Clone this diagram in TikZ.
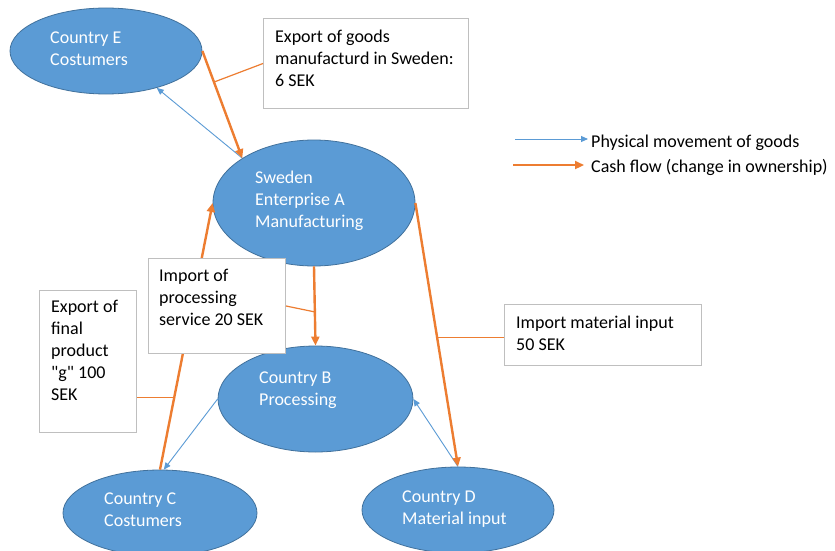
\documentclass[tikz,border=0pt]{standalone}
\usepackage{fontspec}
\setmainfont{Carlito}
\usetikzlibrary{shapes.geometric,arrows.meta,calc}
\definecolor{nodeblue}{HTML}{5B9BD5}
\definecolor{nodeedge}{HTML}{41719C}
\definecolor{cash}{HTML}{ED7D31}
\definecolor{boxedge}{HTML}{BFBFBF}
\begin{document}
\begin{tikzpicture}[x=1pt,y=-1pt,
  country/.style={ellipse,fill=nodeblue,draw=nodeedge,line width=0.8pt,inner sep=0pt},
  ctext/.style={anchor=north west,inner sep=0pt,align=left,text=white,font=\fontsize{18}{22}\selectfont},
  note/.style={draw=boxedge,line width=1pt,fill=white,anchor=north west,inner sep=0pt},
  ntext/.style={anchor=north west,inner sep=0pt,align=left,font=\fontsize{18}{22}\selectfont},
  ltext/.style={anchor=base west,inner sep=0pt,font=\fontsize{18}{22}\selectfont},
  cashflow/.style={cash,line width=2.4pt,-{Triangle[length=9pt,width=8pt]}},
  goods/.style={nodeblue,line width=0.9pt,-{Triangle[length=7pt,width=6pt]}},
  callout/.style={draw=cash,line width=1.2pt},
]
\useasboundingbox[fill=white] (0,0) rectangle (835,551);

% countries
\node[country,minimum width=192pt,minimum height=86pt]  (E) at (106,51)    {};
\node[country,minimum width=202pt,minimum height=126pt] (A) at (314,203)   {};
\node[country,minimum width=195pt,minimum height=106pt] (B) at (315.5,399) {};
\node[country,minimum width=194pt,minimum height=86pt]  (C) at (160,513)   {};
\node[country,minimum width=192pt,minimum height=86pt]  (D) at (458,510)   {};

\node[ctext] (Et) at (50,32)  {Country E\\Costumers};
\node[ctext] (At) at (255,171) {Sweden\\Enterprise A\\Manufacturing};
\node[ctext] (Bt) at (259,372) {Country B\\Processing};
\node[ctext] (Ct) at (104,493) {Country C\\Costumers};
\node[ctext] (Dt) at (402,491) {Country D\\Material input};

% flows of goods
\draw[goods] (A.148) -- (E.324);
\draw[goods] (B.west) -- (C.85);
\draw[goods] (D.north) -- (B.east);

% cash flows
\draw[cashflow] (E.east) -- (A.148);
\draw[cashflow] (C.north) -- (A.west);
\draw[cashflow] (A.south) -- (B.north);
\draw[cashflow] (A.east) -- (D.north);

% notes
\node[note,minimum width=205pt,minimum height=90pt]  (n1) at (263,18)  {};
\node[note,minimum width=137pt,minimum height=95pt]  (n2) at (148,258) {};
\node[note,minimum width=97pt,minimum height=142pt]  (n3) at (39,290)  {};
\node[note,minimum width=197pt,minimum height=61pt]  (n4) at (504,304) {};

\node[ntext] (n1t) at (275,30)  {Export of goods\\manufacturd in Sweden:\\6 SEK};
\node[ntext] (n2t) at (159,269) {Import of\\processing\\service 20 SEK};
\node[ntext] (n3t) at (51,300)  {Export of\\final\\product\\\textquotedbl g\textquotedbl{} 100\\SEK};
\node[ntext] (n4t) at (516,316) {Import material input\\50 SEK};

% callout leaders
\coordinate (c1) at ($(E.east)!0.29!(A.148)$);
\coordinate (c2) at ($(A.south)!0.575!(B.north)$);
\coordinate (c3) at ($(C.north)!0.273!(A.west)$);
\coordinate (c4) at ($(A.east)!0.508!(D.north)$);
\coordinate (n3r) at ($(n3.north east)!0.75!(n3.south east)$);
\coordinate (n4l) at ($(n4.north west)!0.54!(n4.south west)$);
\draw[callout] (n1.west) -- (c1);
\draw[callout] (n2.east) -- (c2);
\draw[callout] (n3r) -- (c3 |- n3r);
\draw[callout] (n4l) -- (c4 |- n4l);

% legend
\coordinate (lg1s) at (515,139);
\coordinate (lg1e) at (588,139);
\coordinate (lg2s) at (513,165);
\coordinate (lg2e) at (584,165);
\draw[goods] (lg1s) -- (lg1e);
\draw[cashflow] (lg2s) -- (lg2e);
\node[ltext] (lg1) at (591,147) {Physical movement of goods};
\node[ltext] (lg2) at (591,172) {Cash flow (change in ownership)};
\end{tikzpicture}
\end{document}
